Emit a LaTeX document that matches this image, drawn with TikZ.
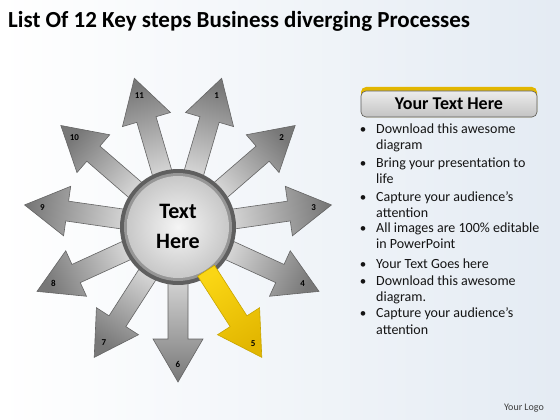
\documentclass[tikz,border=0pt]{standalone}
\usepackage{fontspec}
\setmainfont{Carlito}
\usetikzlibrary{calc}
\definecolor{tipgray}{RGB}{120,120,120}
\definecolor{basegray}{RGB}{218,218,218}
\definecolor{edgegray}{RGB}{100,100,100}
\definecolor{ringgray}{RGB}{95,95,95}
\definecolor{ringmid}{RGB}{150,150,150}
\definecolor{discin}{RGB}{245,245,245}
\definecolor{discout}{RGB}{200,200,200}
\definecolor{goldA}{RGB}{250,214,20}
\definecolor{goldB}{RGB}{226,182,0}
\definecolor{goldedge}{RGB}{200,165,0}
\definecolor{bgblue}{RGB}{228,235,243}
\definecolor{hdrtop}{RGB}{236,236,236}
\definecolor{hdrbot}{RGB}{195,195,195}
\definecolor{hdredge}{RGB}{90,90,90}
\definecolor{bodytext}{RGB}{20,20,20}
\definecolor{logotext}{RGB}{60,60,60}
\begin{document}
\begin{tikzpicture}[x=1pt,y=1pt,
  arrowedge/.style={draw=edgegray, line width=0.6pt},
  numlbl/.style={font=\bfseries\fontsize{9}{10}\selectfont, text=black, inner sep=0pt},
  bulletline/.style={anchor=base west, inner sep=0pt, font=\fontsize{14}{16}\selectfont, text=bodytext},
  bulletdot/.style={anchor=base, inner sep=0pt, font=\fontsize{13}{16}\selectfont, text=bodytext}
]
% background
\shade[left color=white, right color=bgblue] (0,0) rectangle (560,-420);
\useasboundingbox (0,0) rectangle (560,-420);
% title
\node[anchor=base west, inner sep=0pt, font=\bfseries\fontsize{23}{27}\selectfont] (title) at (8,-28) {List Of 12 Key steps Business diverging Processes};
% arrows
\coordinate (c) at (178,-227);
\foreach \i in {0,2,3,4,5,6,7,8,9,10}{
  \pgfmathsetmacro{\a}{270+\i*360/11}
  \pgfmathtruncatemacro{\n}{mod(16-\i,11)+1}
  \shade[arrowedge, top color=tipgray, bottom color=basegray, shading angle={\a-90}]
    ($(c)+(\a:45)+(\a-90:10)$) -- ($(c)+(\a:112)+(\a-90:10)$) -- ($(c)+(\a:112)+(\a-90:25)$)
    -- ($(c)+(\a:155)$) -- ($(c)+(\a:112)+(\a+90:25)$) -- ($(c)+(\a:112)+(\a+90:10)$)
    -- ($(c)+(\a:45)+(\a+90:10)$) -- cycle;
  \node[numlbl] (n\n) at ($(c)+(\a:137)$) {\n};
}
% central circle
\fill[ringgray] (c) circle (58);
\fill[ringmid] (c) circle (54);
\shade[inner color=discin, outer color=discout] (c) circle (51);
\node[align=center, inner sep=0pt, font=\bfseries\fontsize{22}{30}\selectfont] (center) at ($(c)+(0,1)$) {Text\\Here};
% yellow arrow (5)
\pgfmathsetmacro{\b}{270+360/11}
\shade[draw=goldedge, line width=0.6pt, top color=goldB, bottom color=goldA, shading angle={\b-90}]
    ($(c)+(\b:52)+(\b-90:10)$) -- ($(c)+(\b:112)+(\b-90:10)$) -- ($(c)+(\b:112)+(\b-90:25)$)
    -- ($(c)+(\b:155)$) -- ($(c)+(\b:112)+(\b+90:25)$) -- ($(c)+(\b:112)+(\b+90:10)$)
    -- ($(c)+(\b:52)+(\b+90:10)$) -- cycle;
\node[numlbl] (n5) at ($(c)+(\b:139)$) {5};
% header box
\fill[goldB, rounded corners=5pt] (361,-87) rectangle (537,-117);
\shade[top color=hdrtop, bottom color=hdrbot, draw=hdredge, line width=0.6pt, rounded corners=5pt] (361,-91) rectangle (537,-117);
\node[inner sep=0pt, font=\bfseries\fontsize{18}{21}\selectfont] (hdr) at (449,-104) {Your Text Here};
% bullets
\foreach \y in {133,167,201,232,268,285,317}{
  \node[bulletdot] at (363,-\y) {•};
}
\foreach \y/\t [count=\k] in {133/Download this awesome, 149/diagram,
  167/Bring your presentation to, 183/life,
  201/Capture your audience’s, 217/attention,
  232/All images are 100\% editable, 248/in PowerPoint,
  268/Your Text Goes here,
  285/Download this awesome, 301/diagram.,
  317/Capture your audience’s, 334/attention}{
  \node[bulletline] (b\k) at (376,-\y) {\t};
}
% logo
\node[inner sep=0pt, font=\fontsize{10}{12}\selectfont, text=logotext] (logo) at (524,-408) {Your Logo};
\end{tikzpicture}
\end{document}
